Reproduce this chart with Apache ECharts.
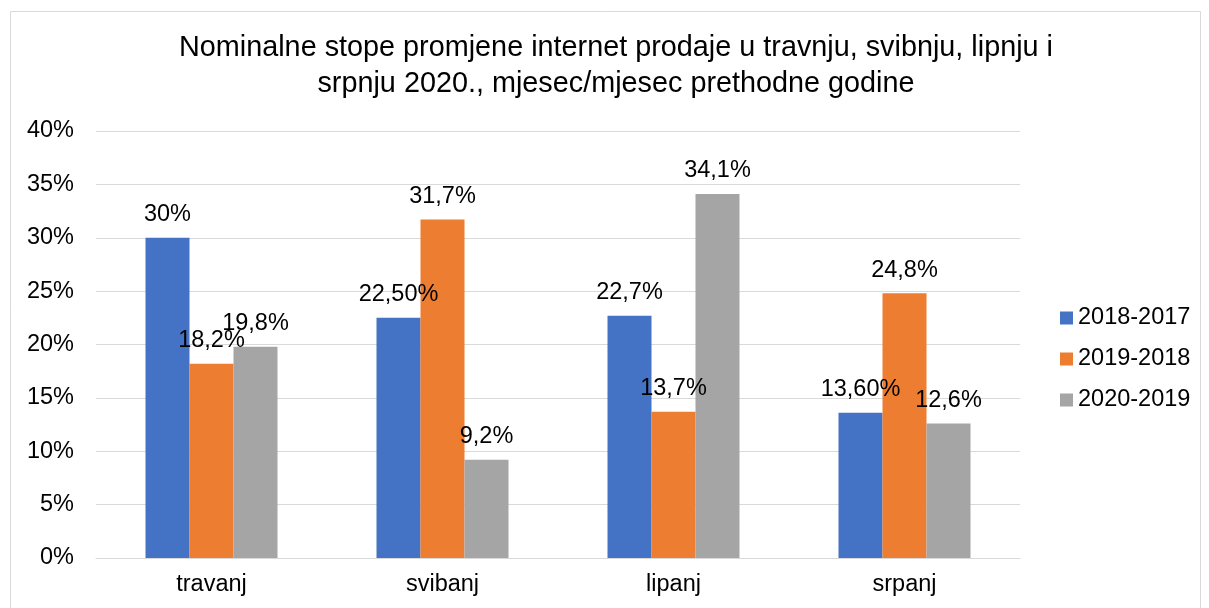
<!DOCTYPE html>
<html>
<head>
<meta charset="utf-8">
<script src="https://cdn.jsdelivr.net/npm/echarts@6/dist/echarts.min.js"></script>
<style>
  html, body { margin: 0; padding: 0; background: #fff; }
  #chart { width: 1209px; height: 608px; }
</style>
</head>
<body>
<div id="chart"></div>
<script>
// kategorije i podaci
const months = ['travanj', 'svibanj', 'lipanj', 'srpanj'];
const seriesNames = ['2018-2017', '2019-2018', '2020-2019'];
const v2018 = [30, 22.5, 22.7, 13.6];
const v2019 = [18.2, 31.7, 13.7, 24.8];
const v2020 = [19.8, 9.2, 34.1, 12.6];
const lbl2018 = ['30%', '22,50%', '22,7%', '13,60%'];
const lbl2019 = ['18,2%', '31,7%', '13,7%', '24,8%'];
const lbl2020 = ['19,8%', '9,2%', '34,1%', '12,6%'];
const yTicks = ['0%', '5%', '10%', '15%', '20%', '25%', '30%', '35%', '40%'];
const colors = ['#4472C4', '#ED7D31', '#A5A5A5'];

const font = 'Liberation Sans, Arial, sans-serif';
const fs = 23.5;

function makeSeries(name, values, labels, color) {
  return {
    name: name,
    type: 'bar',
    barWidth: 44,
    barGap: '0%',
    data: values,
    itemStyle: { color: color },
    label: {
      show: true,
      position: 'top',
      distance: 11,
      fontSize: fs,
      fontFamily: font,
      color: '#000',
      formatter: p => labels[p.dataIndex]
    }
  };
}

const chart = echarts.init(document.getElementById('chart'));
chart.setOption({
  animation: false,
  color: colors,
  textStyle: { fontFamily: font },
  title: {
    text: 'Nominalne stope promjene internet prodaje u travnju, svibnju, lipnju i\nsrpnju 2020., mjesec/mjesec prethodne godine',
    left: 616,
    top: 30,
    textAlign: 'center',
    padding: 0,
    textStyle: { fontSize: 28.8, fontWeight: 'normal', color: '#000', lineHeight: 36, fontFamily: font }
  },
  legend: {
    orient: 'vertical',
    left: 1060,
    top: 306,
    padding: 0,
    itemWidth: 13,
    itemHeight: 13,
    itemGap: 17,
    icon: 'rect',
    textStyle: { fontSize: fs, color: '#000', fontFamily: font },
    data: seriesNames
  },
  grid: { left: 96, right: 189, top: 131, bottom: 50 },
  xAxis: {
    type: 'category',
    data: months,
    axisLine: { lineStyle: { color: '#d9d9d9' } },
    axisTick: { show: false },
    axisLabel: { fontSize: fs, color: '#000', margin: 15, fontFamily: font }
  },
  yAxis: {
    type: 'value',
    min: 0,
    max: 40,
    interval: 5,
    axisLine: { show: false },
    axisTick: { show: false },
    splitLine: { lineStyle: { color: '#d9d9d9', width: 1 } },
    axisLabel: {
      fontSize: fs,
      color: '#000',
      margin: 22,
      fontFamily: font,
      formatter: v => yTicks[Math.round(v / 5)]
    }
  },
  graphic: [{
    type: 'rect',
    shape: { x: 10.5, y: 11.5, width: 1190, height: 640 },
    style: { fill: 'none', stroke: '#d9d9d9', lineWidth: 1 },
    silent: true
  }],
  series: [
    makeSeries(seriesNames[0], v2018, lbl2018, colors[0]),
    makeSeries(seriesNames[1], v2019, lbl2019, colors[1]),
    makeSeries(seriesNames[2], v2020, lbl2020, colors[2])
  ]
});
</script>
</body>
</html>
